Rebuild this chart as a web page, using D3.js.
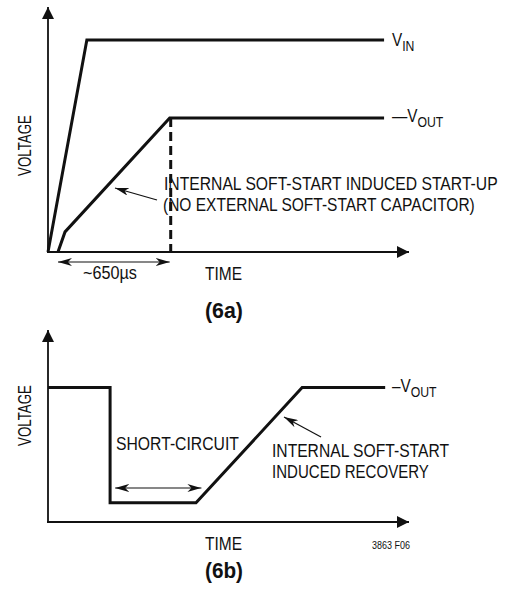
<!DOCTYPE html>
<html>
<head>
<meta charset="utf-8">
<script src="https://cdn.jsdelivr.net/npm/d3@7/dist/d3.min.js"></script>
<style>
  html, body { margin: 0; padding: 0; background: #fff; }
  svg { display: block; }
  text { font-family: "Liberation Sans", Arial, sans-serif; fill: #111; }
</style>
</head>
<body>
<svg id="chart" width="506" height="592"></svg>
<script>
// (6a) start-up: time in µs, voltage normalised to the axis height
const startTime = [0, 2100];
const vinTime = [0, 226, 1955];
const vinLevel = [0, 0.865, 0.865];
const voutTime = [58, 99, 708, 1955];
const voutLevel = [0, 0.082, 0.547, 0.547];
const softStartSpan = [58, 708];       // µs, "~650µs"

// (6b) short-circuit recovery: arbitrary time units
const recTime = [0, 17.2, 17.2, 41, 70.4, 93.4];
const recLevel = [0.70, 0.70, 0.10, 0.10, 0.70, 0.70];
const shortSpan = [18.6, 42.5];

const svg = d3.select("#chart");
const ink = "#111";
const FS = 18;        // body text size
const SQ = 0.85;      // horizontal squeeze for a condensed look

const defs = svg.append("defs");
defs.append("marker").attr("id", "big").attr("viewBox", "0 0 12 12")
  .attr("refX", 12).attr("refY", 6).attr("markerWidth", 12).attr("markerHeight", 12)
  .attr("markerUnits", "userSpaceOnUse").attr("orient", "auto")
  .append("path").attr("d", "M0,0 L12,6 L0,12 Z").attr("fill", ink);
defs.append("marker").attr("id", "thin").attr("viewBox", "0 0 14 8")
  .attr("refX", 14).attr("refY", 4).attr("markerWidth", 14).attr("markerHeight", 8)
  .attr("markerUnits", "userSpaceOnUse").attr("orient", "auto-start-reverse")
  .append("path").attr("d", "M0,0 L14,4 L0,8 L4,4 Z").attr("fill", ink);

function axes(g, x0, x1, y0, y1) {
  g.append("line").attr("x1", x0).attr("y1", y0 + 1).attr("x2", x0).attr("y2", y1)
    .attr("stroke", ink).attr("stroke-width", 1.8).attr("marker-end", "url(#big)");
  g.append("line").attr("x1", x0 - 1).attr("y1", y0).attr("x2", x1).attr("y2", y0)
    .attr("stroke", ink).attr("stroke-width", 1.8).attr("marker-end", "url(#big)");
}

// condensed text: squeezed horizontally so the run spans the given width
function words(g, x, y, str, width, opts) {
  const o = Object.assign({size: FS, anchor: "start", rot: 0, weight: "normal"}, opts || {});
  const t = g.append("text")
    .attr("font-size", o.size).attr("font-weight", o.weight)
    .attr("text-anchor", o.anchor)
    .text(str);
  const natural = t.node().getComputedTextLength();
  const k = natural > 0 ? width / natural : SQ;
  t.attr("transform", `translate(${x},${y}) rotate(${o.rot}) scale(${k},1)`);
  return t;
}

// signal name with a subscript
function signal(g, x, y, main, sub) {
  const t = g.append("text")
    .attr("transform", `translate(${x},${y}) scale(${SQ},1)`)
    .attr("font-size", FS);
  t.append("tspan").text(main);
  t.append("tspan").attr("font-size", FS * 0.8).attr("dy", 5).text(sub);
  return t;
}

function span(g, x1, x2, y) {
  g.append("line").attr("x1", x1).attr("x2", x2).attr("y1", y).attr("y2", y)
    .attr("stroke", ink).attr("stroke-width", 1.2)
    .attr("marker-start", "url(#thin)").attr("marker-end", "url(#thin)");
}

function pointer(g, x1, y1, x2, y2) {
  g.append("line").attr("x1", x1).attr("y1", y1).attr("x2", x2).attr("y2", y2)
    .attr("stroke", ink).attr("stroke-width", 1.2).attr("marker-end", "url(#thin)");
}

// ---------- panel (6a) ----------
const ga = svg.append("g");
const xa = d3.scaleLinear().domain(startTime).range([48, 409]);
const ya = d3.scaleLinear().domain([0, 1]).range([252, 7]);
axes(ga, xa(0), xa(startTime[1]), ya(0), ya(1));

const lineA = d3.line().x(d => xa(d[0])).y(d => ya(d[1]));
[d3.zip(vinTime, vinLevel), d3.zip(voutTime, voutLevel)].forEach(pts => {
  ga.append("path").datum(pts).attr("d", lineA)
    .attr("fill", "none").attr("stroke", ink).attr("stroke-width", 3).attr("stroke-linejoin", "miter");
});

// dashed marker where the soft-start ramp ends
ga.append("line").attr("x1", xa(voutTime[2]) + 1).attr("x2", xa(voutTime[2]) + 1)
  .attr("y1", ya(voutLevel[2])).attr("y2", ya(0))
  .attr("stroke", ink).attr("stroke-width", 3).attr("stroke-dasharray", "9,5");

span(ga, xa(softStartSpan[0]), xa(softStartSpan[1]), 262);
words(ga, 83, 279, "~650µs", 54);

signal(ga, 392, 46, "V", "IN");
signal(ga, 392, 122, "—V", "OUT");

words(ga, 164, 190, "INTERNAL SOFT-START INDUCED START-UP", 334);
words(ga, 163, 211, "(NO EXTERNAL SOFT-START CAPACITOR)", 312);
pointer(ga, 157, 200, 115, 188);

words(ga, 205, 280, "TIME", 37);
words(ga, 31, 145.5, "VOLTAGE", 61, {anchor: "middle", rot: -90});
words(ga, 205, 318, "(6a)", 38, {size: 21.5, weight: "bold"});

// ---------- panel (6b) ----------
const gb = svg.append("g");
const xb = d3.scaleLinear().domain([0, 100]).range([48, 409]);
const yb = d3.scaleLinear().domain([0, 1]).range([522, 330]);
axes(gb, xb(0), xb(100), yb(0), yb(1));

const lineB = d3.line().x(d => xb(d[0])).y(d => yb(d[1]));
gb.append("path").datum(d3.zip(recTime, recLevel)).attr("d", lineB)
  .attr("fill", "none").attr("stroke", ink).attr("stroke-width", 3).attr("stroke-linejoin", "miter");

span(gb, xb(shortSpan[0]), xb(shortSpan[1]), 488);
words(gb, 116, 450, "SHORT-CIRCUIT", 123);

signal(gb, 392, 392, "–V", "OUT");
words(gb, 272, 457, "INTERNAL SOFT-START", 177);
words(gb, 272, 478, "INDUCED RECOVERY", 157);
pointer(gb, 321, 437, 284, 417);

words(gb, 205, 550, "TIME", 37);
words(gb, 31, 415.5, "VOLTAGE", 61, {anchor: "middle", rot: -90});
words(gb, 372, 549, "3863 F06", 38, {size: 11});
words(gb, 205, 578, "(6b)", 38, {size: 21.5, weight: "bold"});
</script>
</body>
</html>
